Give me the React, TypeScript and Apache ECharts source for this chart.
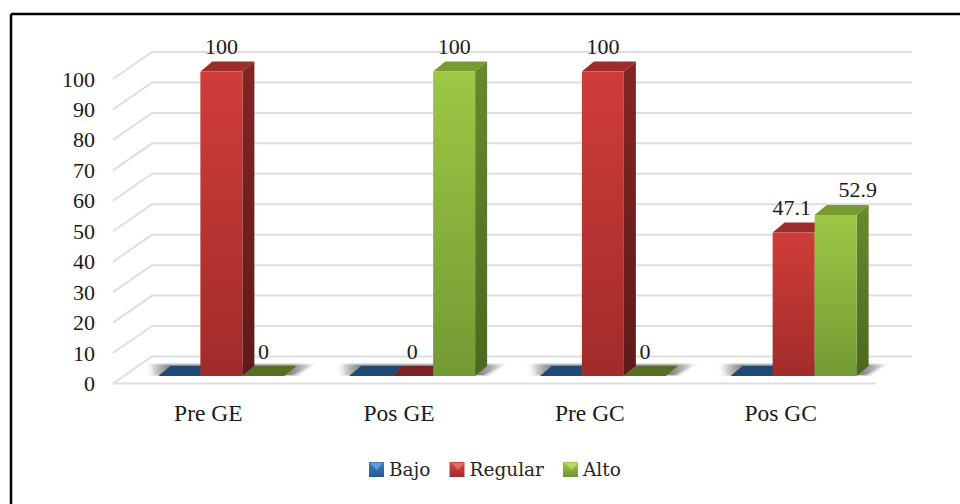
import React, { useEffect, useRef } from "react";
import * as echarts from "echarts";

const categories = ["Pre GE", "Pos GE", "Pre GC", "Pos GC"];
const yTicks = [0, 10, 20, 30, 40, 50, 60, 70, 80, 90, 100];
const bajo = [0, 0, 0, 0];
const regular = [100, 0, 100, 47.1];
const alto = [0, 100, 0, 52.9];

const SERIF = '"Liberation Serif", serif';

// Projection of the fake 3D scene, in pixels.
const WALL = { dx: 39, dy: -27 };
const BAR = { width: 42, dx: 12, dy: -10, planeLift: 7.5, groupShift: 13 };

const PALETTE = {
  Bajo: { top: "#1f4a78", floor: "#1f4a78", front: ["#3a78bd", "#25558c"], side: ["#1e4470", "#16355a"], key: ["#3f7fc6", "#28598f"], glint: "#6fa9e6" },
  Regular: { top: "#9c2d2a", floor: "#7a2322", front: ["#d03c39", "#a12c2a"], side: ["#832523", "#5e1a19"], key: ["#d04a46", "#9e2d2b"], glint: "#e77a76" },
  Alto: { top: "#779b30", floor: "#566f25", front: ["#9dc745", "#739a33"], side: ["#68892e", "#4b681f"], key: ["#a3c94a", "#6f9130"], glint: "#c4e072" },
};

const vGrad = (c: string[]) =>
  new echarts.graphic.LinearGradient(0, 0, 0, 1, [
    { offset: 0, color: c[0] },
    { offset: 1, color: c[1] },
  ]);

// Floor shadow: fades out sideways, darkest close to the bars.
const shadowFill = (alpha: number) =>
  new echarts.graphic.LinearGradient(0, 0, 1, 0, [
    { offset: 0, color: "rgba(90,90,90,0)" },
    { offset: 0.12, color: `rgba(90,90,90,${alpha})` },
    { offset: 0.86, color: `rgba(90,90,90,${alpha})` },
    { offset: 1, color: "rgba(90,90,90,0)" },
  ]);

// Labels the chart's author dragged away from their bars.
const labelNudge = (value: number) => (value === 52.9 ? 22 : value === 47.1 ? -2 : 0);

function barSeries(name: "Bajo" | "Regular" | "Alto", values: number[], slot: number) {
  const colors = PALETTE[name];
  return {
    type: "custom",
    name,
    z: 5,
    itemStyle: { color: colors.front[0] },
    encode: { x: 0, y: 1 },
    data: values.map((v, i) => [i, v]),
    renderItem: (_: any, api: any) => {
      const index = api.value(0);
      const value = api.value(1);
      const cx = api.coord([index, 0])[0] + BAR.groupShift;
      const base = api.coord([0, 0])[1] - BAR.planeLift;
      const top = api.coord([0, value])[1] - BAR.planeLift;
      const l = cx + (slot - 1) * BAR.width - BAR.width / 2;
      const r = l + BAR.width;
      const { dx, dy } = BAR;
      const lid = [[l, top], [r, top], [r + dx, top + dy], [l + dx, top + dy]];
      const children: any[] = [
        { type: "polygon", shape: { points: lid }, style: { fill: value > 0 ? colors.top : colors.floor } },
      ];
      if (value > 0) {
        children.push(
          { type: "polygon", shape: { points: [[r, top], [r + dx, top + dy], [r + dx, base + dy], [r, base]] }, style: { fill: vGrad(colors.side) } },
          { type: "rect", shape: { x: l, y: top, width: BAR.width, height: base - top, r: 1 }, style: { fill: vGrad(colors.front) } }
        );
      }
      // Bajo carries no labels; a zero is only labelled next to a full bar.
      const labelled = name !== "Bajo" && (value > 0 || alto[index] > 0 || regular[index] > 0);
      if (labelled) {
        children.push({
          type: "text",
          z2: 20,
          style: {
            text: String(value),
            x: l + BAR.width / 2 + labelNudge(value),
            y: top + dy - 15,
            fill: "#1a1a1a",
            font: `22px ${SERIF}`,
            align: "center",
            verticalAlign: "middle",
          },
        });
      }
      return { type: "group", children };
    },
  };
}

export default function App() {
  const ref = useRef<HTMLDivElement>(null);

  useEffect(() => {
    document.body.style.margin = "0";
    const chart = echarts.init(ref.current!, undefined, { renderer: "svg" });

    const legendKey = (name: "Bajo" | "Regular" | "Alto") => ({
      name,
      icon: "rect",
      itemStyle: { color: vGrad(PALETTE[name].key) },
    });
    // Small highlight that gives the legend keys their bevelled look.
    const keyGlint = (x: number, name: "Bajo" | "Regular" | "Alto") => ({
      type: "polygon",
      z: 20,
      shape: { points: [[x + 1, 463], [x + 14, 463], [x + 7.5, 470]] },
      style: { fill: PALETTE[name].glint, opacity: 0.75 },
    });

    chart.setOption({
      animation: false,
      backgroundColor: "#ffffff",
      grid: { left: 113, top: 79, width: 763, height: 304.5 },
      xAxis: {
        type: "category",
        data: categories,
        axisLine: { show: false },
        axisTick: { show: false },
        axisLabel: { color: "#1a1a1a", fontFamily: SERIF, fontSize: 23.5, margin: 17 },
      },
      yAxis: {
        type: "value",
        min: 0,
        max: 100,
        interval: 10,
        axisLine: { show: false },
        axisTick: { show: false },
        splitLine: { show: false },
        axisLabel: { color: "#1a1a1a", fontFamily: SERIF, fontSize: 22, margin: 18, padding: [3, 0, 0, 0] },
      },
      legend: {
        left: 369,
        top: 460,
        itemWidth: 15,
        itemHeight: 15,
        itemGap: 19,
        padding: 0,
        selectedMode: false,
        textStyle: { color: "#262626", fontFamily: '"DejaVu Serif", serif', fontSize: 18.5 },
        data: [legendKey("Bajo"), legendKey("Regular"), legendKey("Alto")],
      },
      graphic: [
        { type: "line", shape: { x1: 11, y1: 14, x2: 960, y2: 14 }, style: { stroke: "#000", lineWidth: 2.5 } },
        { type: "line", shape: { x1: 11, y1: 14, x2: 11, y2: 504 }, style: { stroke: "#000", lineWidth: 2.5 } },
        keyGlint(369, "Bajo"),
        keyGlint(450.5, "Regular"),
        keyGlint(564, "Alto"),
      ],
      series: [
        // Back wall, side wall and floor of the scene.
        {
          type: "custom",
          z: 1,
          silent: true,
          encode: { y: 0 },
          data: yTicks.map((t) => [t]),
          renderItem: (params: any, api: any) => {
            const sys = params.coordSys;
            const value = api.value(0);
            const y = api.coord([0, value])[1];
            const x0 = sys.x;
            const x1 = sys.x + sys.width;
            const stroke = { stroke: "#dedede", lineWidth: 2 };
            const children: any[] = [
              { type: "polyline", shape: { points: [[x0, y], [x0 + WALL.dx, y + WALL.dy], [x1 + WALL.dx - 3, y + WALL.dy]] }, style: { ...stroke, fill: "none" } },
            ];
            if (value === 0) {
              children.push({ type: "line", shape: { x1: x0, y1: y, x2: x1, y2: y }, style: stroke });
            }
            return { type: "group", children };
          },
        },
        // Soft shadow each bar group throws on the floor, built from stacked fading layers.
        {
          type: "custom",
          z: 2,
          silent: true,
          encode: { x: 0 },
          data: categories.map((_, i) => [i]),
          renderItem: (_: any, api: any) => {
            const cx = api.coord([api.value(0), 0])[0] + BAR.groupShift;
            const base = api.coord([0, 0])[1] - BAR.planeLift;
            const half = (BAR.width * 3) / 2;
            const layer = (grow: number, alpha: number) => ({
              type: "polygon",
              shape: {
                points: [
                  [cx - half - 4 - grow, base - 1 + grow / 6],
                  [cx + half + 8 + grow, base - 1 + grow / 6],
                  [cx + half + BAR.dx + 16 + grow, base + BAR.dy - 1 - grow / 3],
                  [cx - half + BAR.dx - 20 - grow, base + BAR.dy - 1 - grow / 3],
                ],
              },
              style: { fill: shadowFill(alpha) },
            });
            return { type: "group", children: [layer(6, 0.18), layer(3, 0.28), layer(0, 0.5)] };
          },
        },
        barSeries("Bajo", bajo, 0),
        barSeries("Regular", regular, 1),
        barSeries("Alto", alto, 2),
      ],
    });

    return () => chart.dispose();
  }, []);

  return <div ref={ref} style={{ position: "absolute", left: 0, top: 0, width: 960, height: 504 }} />;
}
